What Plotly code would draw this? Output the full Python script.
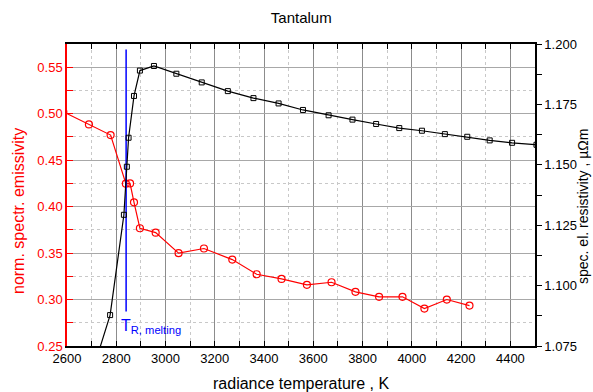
import plotly.graph_objects as go

# Emissivity (left axis, red)
t_emis = [2585, 2689, 2777, 2839, 2856, 2872, 2896, 2960, 3053, 3156, 3271, 3370,
          3471, 3574, 3674, 3771, 3867, 3962, 4051, 4142, 4234]
emis = [0.502, 0.4885, 0.477, 0.4247, 0.425, 0.4046, 0.3767, 0.372, 0.350, 0.3549,
        0.343, 0.3272, 0.3222, 0.3158, 0.3186, 0.3083, 0.3029, 0.3029, 0.2903,
        0.300, 0.2935]

# Resistivity (right axis, black)
t_res = [2690, 2775, 2831, 2843, 2850, 2872, 2896, 2953, 3044, 3147, 3253, 3357,
         3459, 3558, 3662, 3759, 3855, 3949, 4041, 4134, 4225, 4316, 4407, 4506]
res = [1.060, 1.0878, 1.1293, 1.1492, 1.1612, 1.1785, 1.189, 1.1909, 1.1877,
       1.1841, 1.1805, 1.1776, 1.1754, 1.1727, 1.1705, 1.1687, 1.1669, 1.1652,
       1.1641, 1.1627, 1.1616, 1.1601, 1.1591, 1.1583]

t_melt = 2840
melt_line_y = [0.287, 0.569]

font = "Liberation Sans, Arial, sans-serif"

fig = go.Figure()
fig.add_trace(go.Scatter(
    x=t_emis, y=emis, mode="lines+markers",
    line=dict(color="#ff0000", width=1.2),
    marker=dict(symbol="circle-open", size=7, color="#ff0000", line=dict(width=1.2)),
    showlegend=False, yaxis="y"))
fig.add_trace(go.Scatter(
    x=t_res, y=res, mode="lines+markers",
    line=dict(color="#000000", width=1.2),
    marker=dict(symbol="square-open", size=5, color="#000000", line=dict(width=1)),
    showlegend=False, yaxis="y2"))
fig.add_trace(go.Scatter(
    x=[t_melt, t_melt], y=melt_line_y, mode="lines",
    line=dict(color="#0000ff", width=1.5), showlegend=False, yaxis="y"))

fig.add_annotation(x=t_melt, y=0.2705, xref="x", yref="y",
                   text="T<sub>R, melting</sub>", showarrow=False,
                   xanchor="left", xshift=-7,
                   font=dict(color="#0000ff", size=16, family=font))

# Axis titles as annotations for exact placement
fig.add_annotation(text="radiance temperature , K", xref="paper", yref="paper",
                   x=0.5, y=0, xanchor="center", yanchor="middle", yshift=-37,
                   showarrow=False, font=dict(size=16, color="black", family=font))
fig.add_annotation(text="norm. spectr. emissivity", xref="paper", yref="paper",
                   x=0, y=0.5, xanchor="center", yanchor="middle", xshift=-49,
                   yshift=-16, textangle=-90, showarrow=False,
                   font=dict(size=16, color="#ff0000", family=font))
fig.add_annotation(text="spec. el. resistivity , µΩm", xref="paper", yref="paper",
                   x=1, y=0.5, xanchor="center", yanchor="middle", xshift=48,
                   yshift=-12, textangle=-90, showarrow=False,
                   font=dict(size=14, color="black", family=font))

fig.update_layout(
    width=593, height=392,
    margin=dict(l=67, r=58, t=44, b=46),
    paper_bgcolor="white", plot_bgcolor="white",
    font=dict(family=font, size=13, color="black"),
    title=dict(text="Tantalum", x=0.508, xanchor="center", y=0.955, yanchor="middle",
               font=dict(size=15, color="black")),
    xaxis=dict(
        range=[2600, 4500], dtick=200, tick0=2600, automargin=False,
        showline=True, linecolor="black", linewidth=1.5, mirror="allticks",
        ticks="inside", ticklen=5, tickcolor="black",
        showgrid=True, gridcolor="#8c8c8c", gridwidth=1,
        minor=dict(dtick=100, ticks="inside", ticklen=3, tickcolor="black",
                   showgrid=True, gridcolor="#c8c8c8", griddash="dot"),
        zeroline=False,
        tickfont=dict(size=13, color="black"),
    ),
    yaxis=dict(
        range=[0.25, 0.575], dtick=0.05, tick0=0.25, tickformat=".2f",
        automargin=False,
        showline=True, linecolor="#ff0000", linewidth=1.5,
        ticks="inside", ticklen=6, tickcolor="#ff0000",
        showgrid=True, gridcolor="#a8a8a8", gridwidth=1,
        minor=dict(dtick=0.025, ticks="inside", ticklen=6, tickcolor="#ff0000",
                   showgrid=True, gridcolor="#c8c8c8", griddash="dot"),
        zeroline=False,
        tickfont=dict(size=13, color="#ff0000"),
    ),
    yaxis2=dict(
        overlaying="y", side="right", automargin=False,
        range=[1.075, 1.2], dtick=0.025, tick0=1.075, tickformat=".3f",
        showline=True, linecolor="black", linewidth=1.5,
        ticks="outside", ticklen=5, tickcolor="black",
        showgrid=False, zeroline=False,
        minor=dict(dtick=0.0125, ticks="outside", ticklen=5, tickcolor="black",
                   showgrid=False),
        tickfont=dict(size=13, color="black"),
    ),
)

fig.write_html("out.html")
